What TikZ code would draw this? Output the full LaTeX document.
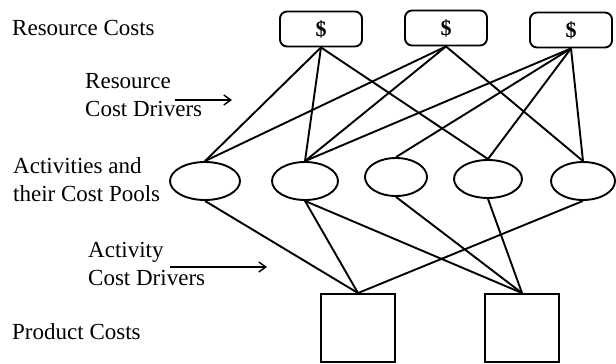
\documentclass[tikz,border=0pt]{standalone}
\usepackage{fontspec}
\setmainfont{Liberation Serif}
\usetikzlibrary{arrows.meta, positioning, shapes.geometric}

\begin{document}
\begin{tikzpicture}[
    x=1pt, y=-1pt,
    res/.style  = {draw, rectangle, rounded corners=7pt, line width=1.9pt,
                   minimum width=82pt, minimum height=35pt,
                   font=\fontsize{22}{24}\selectfont\bfseries},
    pool/.style = {draw, ellipse, line width=1.9pt, inner sep=0pt,
                   minimum width=66pt, minimum height=38pt},
    prod/.style = {draw, rectangle, line width=1.9pt,
                   minimum width=74pt, minimum height=68pt},
    lbl/.style  = {anchor=north west, inner sep=0pt, align=left,
                   font=\fontsize{23}{28}\selectfont},
    link/.style = {line width=1.9pt},
    drv/.style  = {-{Straight Barb[length=7pt,width=10pt]}, line width=1.4pt},
]
    \useasboundingbox (0,0) rectangle (616,364);

    % -- Level labels --
    \node[lbl] (rescost) at (12,20) {Resource Costs};
    \node[lbl] (resdriv) at (85,73) {Resource\\Cost Drivers};
    \node[lbl] (actpool) at (13,157) {Activities and\\their Cost Pools};
    \node[lbl] (actdriv) at (88,242) {Activity\\Cost Drivers};
    \node[lbl] (prodcost) at (12,323) {Product Costs};

    % -- Resources (y = 29) --
    \node[res] (r1) at (321,29) {\$};
    \node[res] (r2) at (446,28) {\$};
    \node[res] (r3) at (571,30) {\$};

    % -- Activity cost pools (y = 180) --
    \node[pool, minimum width=70pt] (e1) at (205,181) {};
    \node[pool] (e2) at (305,181) {};
    \node[pool, minimum width=62pt] (e3) at (396,177) {};
    \node[pool, minimum width=68pt] (e4) at (488,179) {};
    \node[pool, minimum width=64pt] (e5) at (583,181) {};

    % -- Products (y = 328) --
    \node[prod] (p1) at (358,328) {};
    \node[prod] (p2) at (522,328) {};

    % -- Driver arrows --
    \coordinate (rdA) at (175,100);
    \coordinate (rdB) at (232,100);
    \coordinate (adA) at (170,267);
    \coordinate (adB) at (267,267);
    \draw[drv] (rdA) -- (rdB);
    \draw[drv] (adA) -- (adB);

    % -- Resource cost drivers --
    \draw[link] (r1.south) -- (e1.north);
    \draw[link] (r1.south) -- (e2.north);
    \draw[link] (r1.south) -- (e4.north);
    \draw[link] (r2.south) -- (e1.north);
    \draw[link] (r2.south) -- (e2.north);
    \draw[link] (r2.south) -- (e5.north);
    \draw[link] (r3.south) -- (e2.north);
    \draw[link] (r3.south) -- (e3.north);
    \draw[link] (r3.south) -- (e4.north);
    \draw[link] (r3.south) -- (e5.north);

    % -- Activity cost drivers --
    \draw[link] (e1.south) -- (p1.north);
    \draw[link] (e2.south) -- (p1.north);
    \draw[link] (e2.south) -- (p2.north);
    \draw[link] (e3.south) -- (p2.north);
    \draw[link] (e4.south) -- (p2.north);
    \draw[link] (e5.south) -- (p1.north);

\end{tikzpicture}
\end{document}
